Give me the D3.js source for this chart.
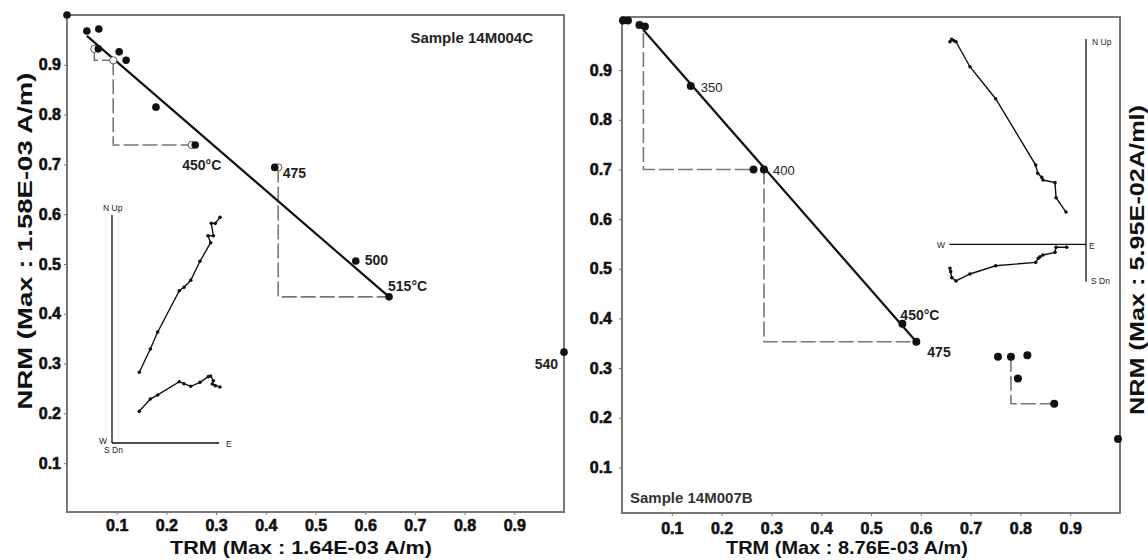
<!DOCTYPE html>
<html lang="en">
<head>
<meta charset="UTF-8">
<title>Arai plots</title>
<script src="https://d3js.org/d3.v7.min.js"></script>
<style>
  body { margin: 0; background: #fff; }
  svg { display: block; font-family: "Liberation Sans", Arial, sans-serif; }
  .tick line { stroke: #777; }
  .domain { display: none; }
</style>
</head>
<body>
<div id="chart"></div>
<script>
// ---- data ----
const tickValues = [0.1, 0.2, 0.3, 0.4, 0.5, 0.6, 0.7, 0.8, 0.9];

// sample 14M004C (left)
const leftTRM = [0.0, 0.04, 0.064, 0.063, 0.105, 0.119, 0.179, 0.258, 0.418, 0.581, 0.648, 1.0];
const leftNRM = [1.0, 0.968, 0.972, 0.932, 0.926, 0.909, 0.815, 0.739, 0.694, 0.506, 0.434, 0.323];
const leftCheckTRM = [0.055, 0.093, 0.251, 0.425];
const leftCheckNRM = [0.932, 0.909, 0.739, 0.694];
const leftCheckLines = [
  [[0.055, 0.932], [0.055, 0.909], [0.093, 0.909]],
  [[0.093, 0.909], [0.093, 0.739], [0.251, 0.739]],
  [[0.425, 0.694], [0.425, 0.434], [0.648, 0.434]]
];
const leftFit = [[0.04, 0.958], [0.648, 0.434]];
const leftLabels = [
  { text: "450°C", i: 7, dx: -13, dy: 25, anchor: "start" },
  { text: "475", i: 8, dx: 8, dy: 11, anchor: "start" },
  { text: "500", i: 9, dx: 9, dy: 4, anchor: "start" },
  { text: "515°C", i: 10, dx: -1, dy: -6, anchor: "start" },
  { text: "540", i: 11, dx: -6, dy: 17, anchor: "end" }
];
// Zijderveld inset, left (E, N) and (E, Up)
const leftZijH = [[1.009, 2.109], [0.965, 2.053], [0.928, 2.053], [0.947, 1.937], [0.897, 1.937], [0.922, 1.872],
  [0.822, 1.698], [0.736, 1.521], [0.673, 1.455], [0.629, 1.423], [0.427, 1.037], [0.358, 0.879], [0.255, 0.661]];
const leftZijV = [[1.009, 0.523], [0.965, 0.536], [0.937, 0.551], [0.947, 0.582], [0.922, 0.626], [0.900, 0.620],
  [0.822, 0.567], [0.736, 0.530], [0.673, 0.554], [0.629, 0.573], [0.427, 0.449], [0.358, 0.411], [0.255, 0.296]];

// sample 14M007B (right)
const rightTRM = [0.002, 0.012, 0.035, 0.046, 0.138, 0.264, 0.285, 0.563, 0.591, 0.755, 0.781, 0.814, 0.795, 0.868, 0.996];
const rightNRM = [1.0, 1.0, 0.991, 0.988, 0.868, 0.700, 0.700, 0.389, 0.353, 0.323, 0.323, 0.326, 0.279, 0.228, 0.157];
const rightCheckLines = [
  [[0.043, 0.975], [0.043, 0.700], [0.264, 0.700]],
  [[0.285, 0.700], [0.285, 0.353], [0.591, 0.353]],
  [[0.781, 0.323], [0.781, 0.228], [0.868, 0.228]]
];
const rightFit = [[0.043, 0.981], [0.591, 0.353]];
const rightLabels = [
  { text: "350", i: 4, dx: 10, dy: 6, anchor: "start", narrow: true },
  { text: "400", i: 6, dx: 9, dy: 6, anchor: "start", narrow: true },
  { text: "450°C", i: 7, dx: -2, dy: -4, anchor: "start" },
  { text: "475", i: 8, dx: 11, dy: 15, anchor: "start" }
];
const rightZijH = [[-0.995, 1.482], [-0.982, 1.500], [-0.966, 1.489], [-0.951, 1.482], [-0.849, 1.299], [-0.661, 1.065],
  [-0.368, 0.580], [-0.353, 0.519], [-0.324, 0.490], [-0.315, 0.470], [-0.227, 0.451], [-0.219, 0.341], [-0.146, 0.236]];
const rightZijV = [[-0.995, -0.176], [-0.990, -0.200], [-0.982, -0.244], [-0.951, -0.268], [-0.849, -0.217], [-0.661, -0.157],
  [-0.368, -0.132], [-0.349, -0.102], [-0.336, -0.091], [-0.315, -0.078], [-0.227, -0.059], [-0.219, -0.022], [-0.141, -0.022]];

const width = 1148, height = 560;
const svg = d3.select("#chart").append("svg")
    .attr("width", width)
    .attr("height", height);

const line = (sx, sy) => d3.line().x(d => sx(d[0])).y(d => sy(d[1]));

// heavy bold tick labels like the scanned figure
function styleTicks(sel) {
    sel.selectAll(".tick text")
        .attr("fill", "#111")
        .style("font-family", "'Liberation Sans', Arial, sans-serif")
        .style("font-size", "16px")
        .style("font-weight", "bold")
        .style("stroke", "#111")
        .style("stroke-width", "0.6px");
}

function drawPanel(o) {
    const g = svg.append("g");
    const x = o.x, y = o.y;

    // frame
    g.append("rect")
        .attr("x", x(0)).attr("y", o.frameTop)
        .attr("width", x(1) - x(0)).attr("height", o.frameBottom - o.frameTop)
        .attr("fill", "none").attr("stroke", "#777").attr("stroke-width", 2);

    g.append("g")
        .attr("transform", `translate(${x(0)},0)`)
        .call(d3.axisLeft(y).tickValues(tickValues).tickSize(3).tickPadding(o.yPad).tickFormat(d3.format(".1f")))
        .call(styleTicks);
    g.append("g")
        .attr("transform", `translate(0,${o.frameBottom})`)
        .call(d3.axisBottom(x).tickValues(tickValues).tickSize(3).tickPadding(o.xPad).tickFormat(d3.format(".1f")))
        .call(styleTicks);

    // pTRM checks
    g.selectAll(".check").data(o.checks).join("path")
        .attr("d", line(x, y))
        .attr("fill", "none").attr("stroke", "#777").attr("stroke-width", 1.6)
        .attr("stroke-dasharray", "15,4");

    // fit line
    g.append("path").datum(o.fit)
        .attr("d", line(x, y))
        .attr("stroke", "#111").attr("stroke-width", 2.2);

    if (o.checkTRM) {
        g.selectAll(".open").data(o.checkTRM).join("circle")
            .attr("cx", d => x(d)).attr("cy", (d, i) => y(o.checkNRM[i]))
            .attr("r", 3.6).attr("fill", "#fff").attr("stroke", "#555").attr("stroke-width", 1);
    }

    g.selectAll(".pt").data(o.trm).join("circle")
        .attr("cx", d => x(d)).attr("cy", (d, i) => y(o.nrm[i]))
        .attr("r", o.r).attr("fill", "#111");

    g.selectAll(".lab").data(o.labels).join("text")
        .attr("x", d => x(o.trm[d.i]) + d.dx)
        .attr("y", d => y(o.nrm[d.i]) + d.dy)
        .attr("text-anchor", d => d.anchor)
        .style("font-family", d => d.narrow ? "'Liberation Sans Narrow', 'Arial Narrow', sans-serif" : null)
        .style("font-size", d => d.narrow ? "13px" : "14px")
        .style("font-weight", d => d.narrow ? "normal" : "bold")
        .attr("fill", "#222")
        .text(d => d.text);

    // Zijderveld inset
    const z = o.zij;
    const zg = g.append("g");
    zg.append("line")
        .attr("x1", z.x(z.hx[0])).attr("x2", z.x(z.hx[1]))
        .attr("y1", z.y(0)).attr("y2", z.y(0))
        .attr("stroke", "#111").attr("stroke-width", 1.3);
    zg.append("line")
        .attr("x1", z.x(0)).attr("x2", z.x(0))
        .attr("y1", z.y(z.vy[0])).attr("y2", z.y(z.vy[1]))
        .attr("stroke", "#111").attr("stroke-width", 1.3);
    [z.h, z.v].forEach(pts => {
        zg.append("path").datum(pts)
            .attr("d", line(z.x, z.y))
            .attr("fill", "none").attr("stroke", "#111").attr("stroke-width", 1.4);
        zg.selectAll(null).data(pts).join("circle")
            .attr("cx", d => z.x(d[0])).attr("cy", d => z.y(d[1]))
            .attr("r", 1.8).attr("fill", "#111");
    });
    zg.selectAll(".zl").data(z.labels).join("text")
        .attr("x", d => d.x).attr("y", d => d.y)
        .attr("text-anchor", d => d.anchor || "start")
        .style("font-size", "8.5px").attr("fill", "#222")
        .text(d => d.t);
}

// left panel
drawPanel({
    x: d3.scaleLinear([0, 1], [67, 564]),
    y: d3.scaleLinear([0, 1], [513, 15]),
    frameTop: 15, frameBottom: 512, yPad: 3, xPad: 5,
    trm: leftTRM, nrm: leftNRM, r: 3.8,
    checkTRM: leftCheckTRM, checkNRM: leftCheckNRM,
    checks: leftCheckLines, fit: leftFit, labels: leftLabels,
    zij: {
        x: d3.scaleLinear([0, 1], [112, 219]),
        y: d3.scaleLinear([0, 1], [443, 336]),
        hx: [0, 1], vy: [0, 2.13],
        h: leftZijH, v: leftZijV,
        labels: [
            { t: "N  Up", x: 103, y: 211 },
            { t: "W", x: 99, y: 444 },
            { t: "S  Dn", x: 104, y: 453 },
            { t: "E", x: 226, y: 447 }
        ]
    }
});

// right panel
drawPanel({
    x: d3.scaleLinear([0, 1], [622, 1120]),
    y: d3.scaleLinear([0, 1], [517, 20.5]),
    frameTop: 17, frameBottom: 513, yPad: 7, xPad: 6.5,
    trm: rightTRM, nrm: rightNRM, r: 4,
    checks: rightCheckLines, fit: rightFit, labels: rightLabels,
    zij: {
        x: d3.scaleLinear([-1, 0], [949.3, 1086]),
        y: d3.scaleLinear([0, 1], [244.3, 107.6]),
        hx: [-1, 0], vy: [-0.274, 1.502],
        h: rightZijH, v: rightZijV,
        labels: [
            { t: "N  Up", x: 1092, y: 45 },
            { t: "W", x: 945, y: 248, anchor: "end" },
            { t: "E", x: 1089, y: 249 },
            { t: "S  Dn", x: 1091, y: 284 }
        ]
    }
});

// titles
const title = (t, x, y, len, rot) => svg.append("text")
    .attr("transform", `translate(${x},${y})` + (rot ? " rotate(-90)" : ""))
    .attr("text-anchor", "middle")
    .attr("textLength", len).attr("lengthAdjust", "spacingAndGlyphs")
    .style("font-size", rot ? "21px" : "19px").style("font-weight", "bold").attr("fill", "#111")
    .text(t);

title("TRM (Max : 1.64E-03 A/m)", 301, 554, 262, false);
title("TRM (Max : 8.76E-03 A/m)", 847, 554, 242, false);
title("NRM (Max : 1.58E-03 A/m)", 32, 241, 337, true);
title("NRM (Max : 5.95E-02A/ml)", 1144, 260, 310, true);

svg.append("text").attr("x", 533).attr("y", 43).attr("text-anchor", "end")
    .style("font-size", "15px").style("font-weight", "bold").attr("fill", "#222")
    .text("Sample 14M004C");
svg.append("text").attr("x", 630).attr("y", 503)
    .style("font-size", "15px").style("font-weight", "bold").attr("fill", "#333")
    .text("Sample 14M007B");
</script>
</body>
</html>
